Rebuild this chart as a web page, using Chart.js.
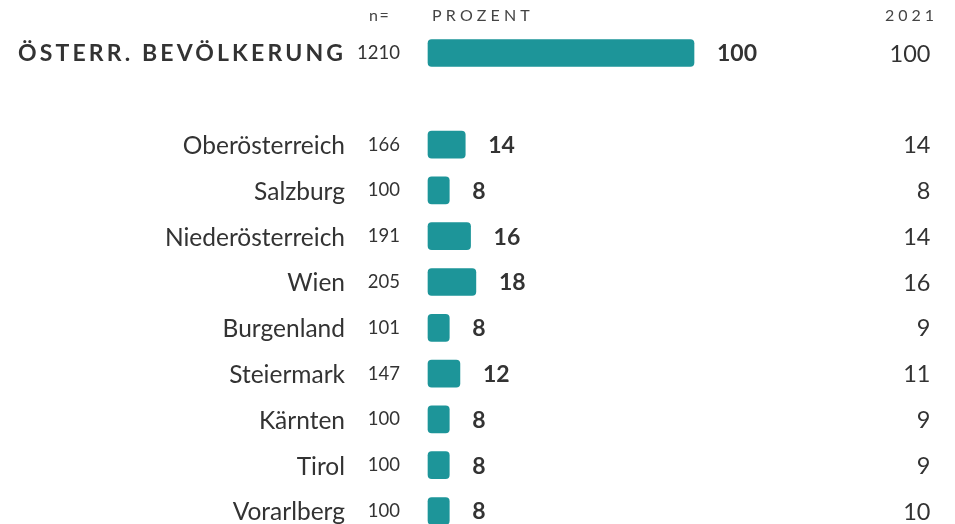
<!DOCTYPE html>
<html>
<head>
<meta charset="utf-8">
<script src="https://cdn.jsdelivr.net/npm/chart.js@4/dist/chart.umd.min.js"></script>
<style>
html,body{margin:0;padding:0;background:#fff;}
#wrap{position:relative;width:955px;height:524px;}
</style>
</head>
<body>
<div id="wrap"><canvas id="c" width="955" height="524"></canvas></div>
<script>
const categories = ["ÖSTERR. BEVÖLKERUNG", "", "Oberösterreich", "Salzburg", "Niederösterreich", "Wien", "Burgenland", "Steiermark", "Kärnten", "Tirol", "Vorarlberg"];
const sampleSizes = [1210, null, 166, 100, 191, 205, 101, 147, 100, 100, 100];
const percent = [100, null, 14, 8, 16, 18, 8, 12, 8, 8, 8];
const percent2021 = [100, null, 14, 8, 14, 16, 9, 11, 9, 9, 10];
const headers = { n: "n=", pct: "PROZENT", prev: "2021" };

const TEXT = "#333333";
const BAR = "#1d9599";
const FONT = "Lato, 'Open Sans', sans-serif";

function spacedText(ctx, text, x, y, spacing, align) {
  ctx.save();
  if ('letterSpacing' in ctx) {
    ctx.letterSpacing = spacing + "px";
    let w = ctx.measureText(text).width;
    ctx.textAlign = "left";
    let sx = x;
    if (align === "right") sx = x - w + spacing;
    else if (align === "center") sx = x - w / 2;
    ctx.fillText(text, sx, y);
  } else {
    ctx.textAlign = align;
    ctx.fillText(text, x, y);
  }
  ctx.restore();
}

const labelsPlugin = {
  id: "labels",
  afterDatasetsDraw(chart) {
    const ctx = chart.ctx;
    const y = chart.scales.y;
    const meta = chart.getDatasetMeta(0);
    ctx.save();
    ctx.textBaseline = "middle";
    ctx.fillStyle = "#444444";
    ctx.font = "16px " + FONT;
    spacedText(ctx, headers.n, 369, 16, 1.5, "left");
    spacedText(ctx, headers.pct, 432, 16, 4.2, "left");
    spacedText(ctx, headers.prev, 934, 16, 4, "right");

    categories.forEach((cat, i) => {
      if (percent[i] === null) return;
      const py = y.getPixelForValue(i);
      ctx.fillStyle = TEXT;
      if (i === 0) {
        ctx.font = "bold 23px " + FONT;
        spacedText(ctx, cat, 343, py + 1, 3.15, "right");
      } else {
        ctx.font = "24.5px " + FONT;
        ctx.textAlign = "right";
        ctx.fillText(cat, 345, py + 1.5);
      }
      ctx.font = "18.5px " + FONT;
      ctx.textAlign = "right";
      ctx.fillText(String(sampleSizes[i]), 400, py);
      const bar = meta.data[i];
      ctx.font = "bold 23px " + FONT;
      ctx.textAlign = "left";
      ctx.fillText(String(percent[i]), bar.x + 23, py + 1);
      ctx.font = "23.5px " + FONT;
      ctx.textAlign = "right";
      ctx.fillText(String(percent2021[i]), 930.5, py + 1);
    });
    ctx.restore();
  }
};

new Chart(document.getElementById("c"), {
  type: "bar",
  data: {
    labels: categories,
    datasets: [{
      data: percent,
      backgroundColor: BAR,
      borderRadius: 4,
      borderSkipped: false,
      barThickness: 27,
      clip: false
    }]
  },
  options: {
    indexAxis: "y",
    responsive: false,
    animation: false,
    layout: { padding: { left: 428, right: 261, top: 53, bottom: 13 } },
    plugins: { legend: { display: false }, tooltip: { enabled: false } },
    scales: {
      x: { min: 0, max: 100, display: false },
      y: { display: false, offset: false }
    }
  },
  plugins: [labelsPlugin]
});
</script>
</body>
</html>
